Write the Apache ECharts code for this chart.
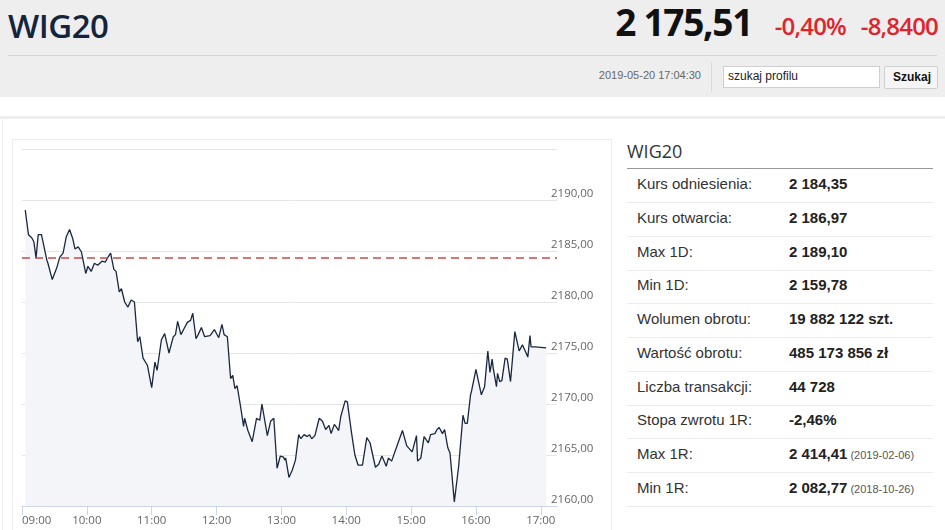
<!DOCTYPE html>
<html><head><meta charset="utf-8">
<script src="https://cdn.jsdelivr.net/npm/echarts@6/dist/echarts.min.js"></script>
<style>
html,body{margin:0;padding:0;width:945px;height:530px;overflow:hidden;background:#fff;font-family:"Liberation Sans",Arial,sans-serif;}
.abs{position:absolute;white-space:nowrap;}
#hdr{position:absolute;left:0;top:0;width:945px;height:97px;background:#eeeeee;}
#chart{position:absolute;left:0;top:130px;width:620px;height:400px;}
.row{position:absolute;left:627px;width:306px;height:33px;border-bottom:1px solid #ececec;font-size:15px;color:#333;}
.row .l{position:absolute;left:10px;top:6px;}
.row .v{position:absolute;left:162px;top:6px;font-weight:bold;color:#222;}
.row .d{font-weight:normal;font-size:11px;color:#555;}
</style></head>
<body>
<div id="hdr"></div>
<div class="abs" style="left:8px;top:3px;font-family:'Open Sans';font-size:33px;color:#15243d;font-weight:600;letter-spacing:-0.5px;">WIG20</div>
<div class="abs" style="right:193px;top:-4px;font-family:'Open Sans';font-size:37px;font-weight:700;color:#111;letter-spacing:-1.3px;">2 175,51</div>
<div class="abs" style="right:99px;top:9px;font-family:'Open Sans';font-size:24px;font-weight:600;color:#e0242c;letter-spacing:-0.8px;">-0,40%</div>
<div class="abs" style="right:7px;top:9px;font-family:'Open Sans';font-size:24px;font-weight:600;color:#e0242c;letter-spacing:-0.8px;">-8,8400</div>
<div class="abs" style="left:8px;top:55px;width:929px;height:1px;background:#d6d6d6;"></div>
<div class="abs" style="right:244px;top:69px;font-size:11px;color:#666;">2019-05-20 17:04:30</div>
<div class="abs" style="left:711px;top:62px;width:1px;height:30px;background:#dcdcdc;"></div>
<div class="abs" style="left:723px;top:66px;width:155px;height:20px;background:#fff;border:1px solid #cfcfcf;"></div>
<div class="abs" style="left:728px;top:69px;font-size:12px;color:#222;">szukaj profilu</div>
<div class="abs" style="left:884px;top:66px;width:52px;height:21px;background:#f5f5f5;border:1px solid #d0d0d0;border-radius:2px;"></div>
<div class="abs" style="left:893px;top:70px;font-size:12px;font-weight:bold;color:#111;">Szukaj</div>
<div class="abs" style="left:0;top:116px;width:945px;height:3px;background:#eeeeee;"></div>
<div class="abs" style="left:2px;top:119px;width:1px;height:411px;background:#eeeeee;"></div>
<div class="abs" style="left:12px;top:139px;width:598px;height:400px;border:1px solid #eeeeee;"></div>
<div id="chart"></div>
<div class="abs" style="left:627px;top:139px;font-family:'Open Sans';font-size:18px;color:#333;">WIG20</div>
<div class="abs" style="left:627px;top:168px;width:306px;height:1px;background:#999;"></div>
<div id="table"></div>
<script>
// ---- data ----
const times = [
 '09:03','09:06','09:09','09:11','09:13','09:15','09:18','09:23','09:24','09:28','09:32','09:35','09:38','09:41','09:44','09:47','09:49','09:52','09:55','09:59',
 '10:01','10:04','10:07','10:10','10:14','10:17','10:19','10:22','10:25','10:27','10:30','10:32','10:35','10:38','10:41','10:44','10:47','10:49','10:52','10:56',
 '11:00','11:03','11:05','11:09','11:12','11:16','11:20','11:22','11:24','11:27','11:30','11:33','11:36','11:38','11:41','11:43','11:46','11:49','11:54','11:58',
 '12:02','12:05','12:07','12:10','12:13','12:15','12:17','12:19','12:22','12:25','12:26','12:29','12:30','12:33','12:37','12:40','12:42','12:47','12:50','12:53','12:56','12:59',
 '13:02','13:03','13:04','13:07','13:10','13:13','13:16','13:18','13:21','13:24','13:26','13:28','13:31','13:35','13:38','13:41','13:44','13:46','13:49','13:51','13:53','13:55','13:59',
 '14:01','14:05','14:08','14:11','14:15','14:19','14:22','14:27','14:30','14:33','14:35','14:37','14:39','14:42','14:47','14:52','14:56',
 '15:01','15:05','15:06','15:09','15:12','15:16','15:18','15:22','15:24','15:26','15:29','15:31','15:34','15:36','15:40','15:44','15:48','15:50','15:52','15:55','15:56',
 '16:00','16:05','16:08','16:11','16:13','16:15','16:16','16:19','16:20','16:22','16:24','16:27','16:29','16:32','16:36','16:40','16:43','16:46','16:48','16:50','16:51','16:55',
 '17:05'
];
const prices = [
 2189.0,2186.6,2186.3,2185.9,2184.3,2186.6,2186.6,2184.1,2183.8,2182.2,2183.3,2184.4,2184.8,2186.4,2187.1,2186.2,2185.2,2185.4,2184.9,2182.8,
 2183.5,2183.0,2183.8,2183.6,2184.0,2183.9,2184.3,2184.8,2183.2,2183.0,2181.0,2181.3,2180.0,2179.5,2180.2,2180.0,2176.1,2176.6,2174.5,2173.8,
 2171.6,2174.1,2173.3,2176.3,2176.9,2175.0,2176.6,2176.8,2178.1,2176.8,2177.4,2178.0,2178.2,2178.9,2176.4,2176.8,2177.5,2176.6,2176.7,2177.3,
 2176.5,2177.8,2176.8,2176.6,2172.5,2172.8,2171.5,2171.8,2169.9,2167.8,2168.6,2167.4,2167.5,2166.3,2168.6,2168.4,2170.0,2166.9,2168.3,2168.6,2163.7,2164.9,
 2164.8,2164.5,2164.7,2162.8,2163.5,2164.5,2167.0,2166.6,2167.0,2166.8,2167.0,2166.6,2166.9,2168.6,2168.3,2167.5,2167.9,2167.1,2168.0,2167.7,2167.4,2168.8,2170.3,
 2170.2,2167.1,2165.0,2164.0,2164.0,2166.7,2166.2,2163.8,2164.1,2164.9,2164.4,2163.9,2164.7,2164.4,2165.9,2167.4,2165.9,
 2165.3,2166.9,2164.4,2164.7,2166.8,2166.2,2167.0,2167.1,2167.5,2167.7,2167.1,2167.5,2165.7,2165.2,2160.4,2163.9,2168.9,2168.1,2168.1,2170.9,2171.3,
 2173.4,2170.9,2171.7,2175.2,2173.1,2174.4,2173.5,2171.7,2173.0,2172.2,2172.3,2174.5,2174.4,2172.2,2177.1,2175.2,2175.8,2175.1,2174.6,2176.7,2175.6,2175.6,
 2175.5
];
const referencePrice = 2184.35;
const xTickLabels = ['09:00','10:00','11:00','12:00','13:00','14:00','15:00','16:00','17:00'];
const yTickValues = [2160,2165,2170,2175,2180,2185,2190,2195];
const yTickLabels = ['2160,00','2165,00','2170,00','2175,00','2180,00','2185,00','2190,00',''];

const tableLabels = ['Kurs odniesienia:','Kurs otwarcia:','Max 1D:','Min 1D:','Wolumen obrotu:','Wartość obrotu:','Liczba transakcji:','Stopa zwrotu 1R:','Max 1R:','Min 1R:'];
const tableValues = ['2 184,35','2 186,97','2 189,10','2 159,78','19 882 122 szt.','485 173 856 zł','44 728','-2,46%','2 414,41','2 082,77'];
const tableDates = ['','','','','','','','','(2019-02-06)','(2018-10-26)'];

// ---- table ----
const tbl = document.getElementById('table');
tableLabels.forEach((lab,i)=>{
  const r = document.createElement('div');
  r.className='row';
  r.style.top = (169 + i*33.75) + 'px';
  r.innerHTML = '<span class="l"></span><span class="v"></span>';
  r.querySelector('.l').textContent = lab;
  const v = r.querySelector('.v');
  v.textContent = tableValues[i];
  if (tableDates[i]) { const d=document.createElement('span'); d.className='d'; d.textContent=' '+tableDates[i]; v.appendChild(d); }
  tbl.appendChild(r);
});

// ---- chart ----
const toMin = t => { const [h,m]=t.split(':').map(Number); return (h-9)*60+m; };
const data = times.map((t,i)=>[toMin(t), prices[i]]);
const chart = echarts.init(document.getElementById('chart'), null, {renderer:'canvas'});
const axisFont = {fontFamily:'Open Sans', fontSize:11.5, color:'#666666'};
chart.setOption({
  animation:false,
  grid:{left:22,right:63,top:19,bottom:24,containLabel:false,outerBoundsMode:'none'},
  xAxis:{
    type:'value',min:0,max:495,interval:60,
    axisLine:{show:true,lineStyle:{color:'#ccd6eb',width:1}},
    axisTick:{show:true,length:9,lineStyle:{color:'#ccd6eb'},customValues:xTickLabels.map((_,i)=>i*60)},
    splitLine:{show:false},
    axisLabel:Object.assign({margin:9,alignMinLabel:'left',customValues:xTickLabels.map((_,i)=>i*60),
      formatter:v=>xTickLabels[Math.round(v/60)]||''},axisFont)
  },
  yAxis:{
    type:'value',position:'right',min:2160,max:2195,interval:5,
    axisLine:{show:false},axisTick:{show:false},
    splitLine:{show:true,lineStyle:{color:'#e6e6e6',width:1}},
    axisLabel:Object.assign({margin:-6,verticalAlign:'bottom',align:'left',lineHeight:13,
      formatter:v=>{const k=yTickValues.indexOf(Math.round(v));return k>=0?yTickLabels[k]:'';}},axisFont)
  },
  series:[{
    type:'line',data:data,symbol:'none',smooth:false,
    lineStyle:{color:'#1a283f',width:1.3},
    areaStyle:{color:'#f3f5f8',opacity:1,origin:'start'},
    markLine:{silent:true,symbol:'none',label:{show:false},
      lineStyle:{color:'#c8494b',type:[8,5],width:1.5},
      data:[{yAxis:referencePrice}]}
  }]
});
</script>
</body></html>
